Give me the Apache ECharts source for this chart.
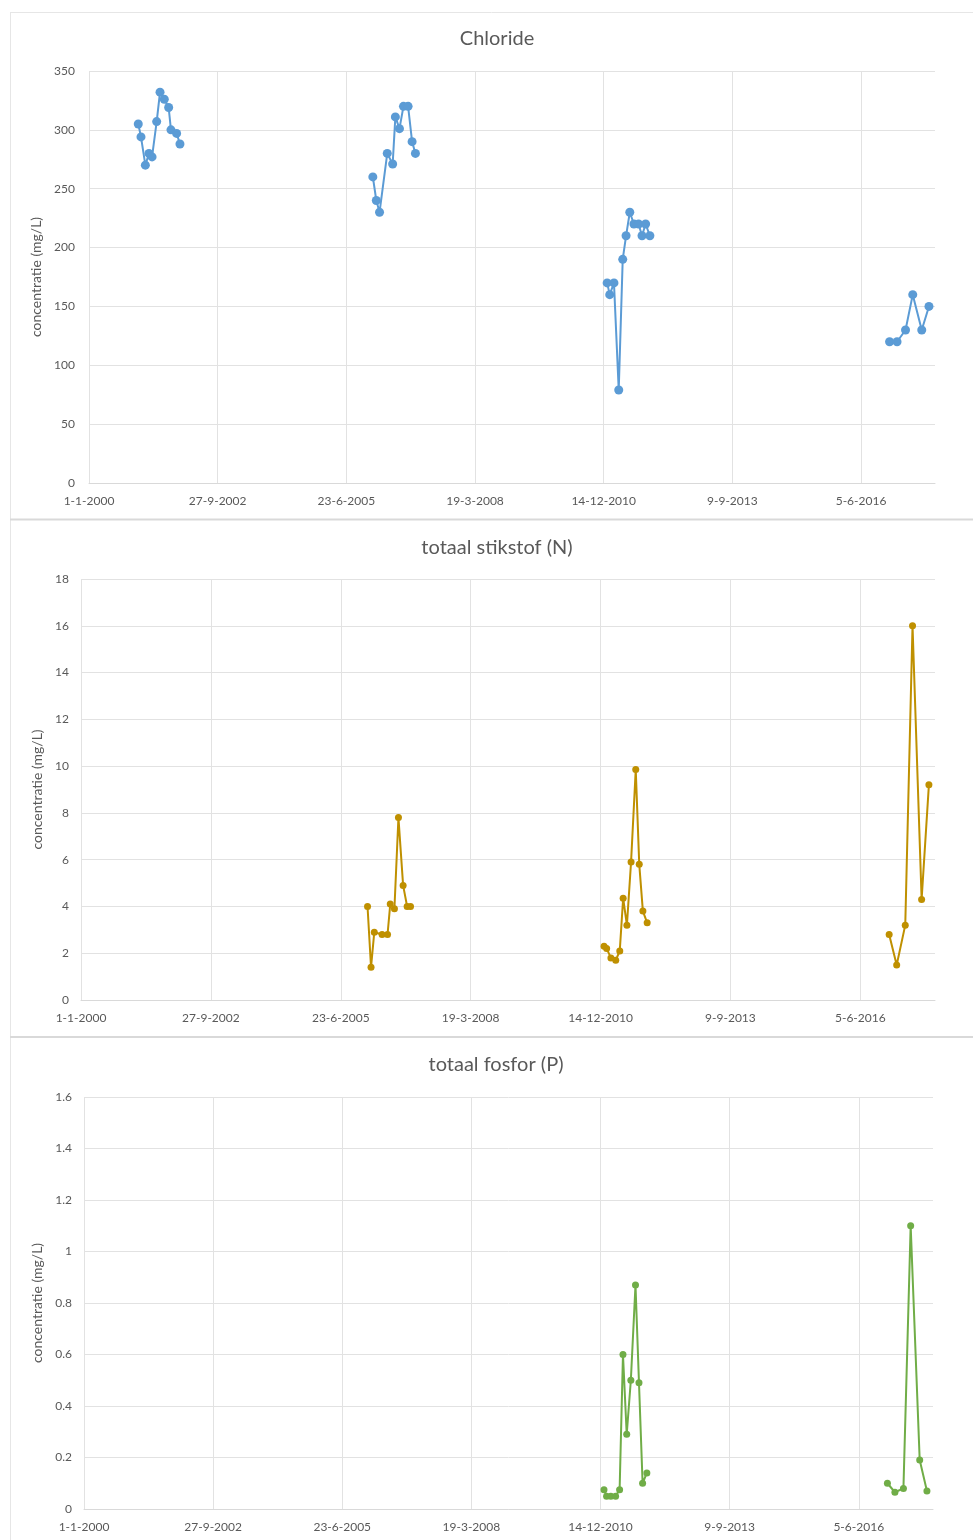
<!DOCTYPE html>
<html>
<head>
<meta charset="utf-8">
<script src="https://cdn.jsdelivr.net/npm/echarts@6/dist/echarts.min.js"></script>
<style>
html,body{margin:0;padding:0;background:#fff;}
#c{width:973px;height:1540px;}
</style>
</head>
<body>
<div id="c"></div>
<script>
// ---- data ----
const titles = ['Chloride', 'totaal stikstof (N)', 'totaal fosfor (P)'];
const yAxisName = 'concentratie (mg/L)';

const dates2001 = ['2001-01-18','2001-02-08','2001-03-14','2001-04-11','2001-05-05','2001-06-10','2001-07-06','2001-08-08','2001-09-11','2001-09-29','2001-11-12','2001-12-08'];
const chloride2001 = [305, 294, 270, 280, 277, 307, 332, 326, 319, 300, 297, 288];

const dates2006 = ['2006-01-15','2006-02-11','2006-03-08','2006-05-07','2006-06-18','2006-07-09','2006-08-10','2006-09-10','2006-10-16','2006-11-16','2006-12-12'];
const chloride2006 = [260, 240, 230, 280, 271, 311, 301, 320, 320, 290, 280];
const nitrogen2006 = [4.0, 1.4, 2.9, 2.8, 2.8, 4.1, 3.9, 7.8, 4.9, 4.0, 4.0];

const dates2011 = ['2011-01-10','2011-01-30','2011-03-04','2011-04-10','2011-05-11','2011-06-06','2011-07-05','2011-08-06','2011-09-11','2011-10-08','2011-11-05','2011-12-08'];
const chloride2011 = [170, 160, 170, 79, 190, 210, 230, 220, 220, 210, 220, 210];
const nitrogen2011 = [2.3, 2.2, 1.8, 1.7, 2.1, 4.35, 3.2, 5.9, 9.85, 5.8, 3.8, 3.3];
const phosphorus2011 = [0.075, 0.05, 0.05, 0.05, 0.075, 0.60, 0.29, 0.50, 0.87, 0.49, 0.10, 0.14];

const dates2017 = ['2017-01-13','2017-03-12','2017-05-17','2017-07-12','2017-09-20','2017-11-15'];
const chloride2017 = [120, 120, 130, 160, 130, 150];
const nitrogen2017 = [2.8, 1.5, 3.2, 16, 4.3, 9.2];
const phosphorus2017 = [0.10, 0.065, 0.08, 1.1, 0.19, 0.07];

// axis ranges
const xStartDate = '2000-01-01';
const xEndDate = '2018-01-01';
const xTickDays = 1000;
const yMax = [350, 18, 1.6];
const yInterval = [50, 2, 0.2];

// ---- helpers ----
const DAY = 86400000;
const base = Date.UTC(2000, 0, 1);
function dayNum(s) {
  const p = s.split('-').map(Number);
  return Math.round((Date.UTC(p[0], p[1] - 1, p[2]) - base) / DAY);
}
function pts(dates, vals) { return dates.map((d, i) => [dayNum(d), vals[i]]); }
function fmtDay(v) {
  if (v % xTickDays !== 0) return '';
  const d = new Date(base + v * DAY);
  return d.getUTCDate() + '-' + (d.getUTCMonth() + 1) + '-' + d.getUTCFullYear();
}

const FONT = 'Lato, "Open Sans", sans-serif';
const TXT = '#595959';
const GRIDC = '#e2e2e2';

const grids = [
  {left: 89, top: 71, width: 846, height: 412},
  {left: 81, top: 579, width: 854, height: 421},
  {left: 84, top: 1097, width: 849, height: 412}
];
const nameGaps = [42, 34, 38];
const labelMargins = [14, 12, 12];
const titleTops = [29, 538, 1055];
const colors = ['#5B9BD5', '#BF9000', '#70AD47'];
const symSizes = [9, 7, 7];

const groups = [
  [pts(dates2001, chloride2001), pts(dates2006, chloride2006), pts(dates2011, chloride2011), pts(dates2017, chloride2017)],
  [pts(dates2006, nitrogen2006), pts(dates2011, nitrogen2011), pts(dates2017, nitrogen2017)],
  [pts(dates2011, phosphorus2011), pts(dates2017, phosphorus2017)]
];

const xAxes = [], yAxes = [], series = [], title = [];
grids.forEach((g, k) => {
  g.outerBoundsMode = 'none';
  xAxes.push({
    gridIndex: k, type: 'value', min: dayNum(xStartDate), max: dayNum(xEndDate), interval: xTickDays,
    axisLabel: {formatter: fmtDay, color: TXT, fontSize: 12, fontFamily: FONT, margin: 12, hideOverlap: false},
    axisLine: {show: true, lineStyle: {color: '#d9d9d9', width: 1}},
    axisTick: {show: false},
    splitLine: {show: true, showMaxLine: false, lineStyle: {color: GRIDC, width: 1}}
  });
  yAxes.push({
    gridIndex: k, type: 'value', min: 0, max: yMax[k], interval: yInterval[k],
    name: yAxisName, nameLocation: 'middle', nameGap: nameGaps[k],
    nameTextStyle: {color: TXT, fontSize: 14, fontFamily: FONT},
    axisLabel: {color: TXT, fontSize: 12, fontFamily: FONT, margin: labelMargins[k]},
    axisLine: {show: false}, axisTick: {show: false},
    splitLine: {show: true, lineStyle: {color: GRIDC, width: 1}}
  });
  title.push({
    text: titles[k], left: k === 2 ? 496 : 497, top: titleTops[k], textAlign: 'center', padding: 0,
    textStyle: {fontSize: 20, color: TXT, fontWeight: 'normal', fontFamily: FONT}
  });
  groups[k].forEach(data => {
    series.push({
      type: 'line', xAxisIndex: k, yAxisIndex: k, data: data,
      symbol: 'circle', symbolSize: symSizes[k], showSymbol: true,
      lineStyle: {color: colors[k], width: 2},
      itemStyle: {color: colors[k]},
      clip: false, silent: true, animation: false
    });
  });
});

const chart = echarts.init(document.getElementById('c'), null, {renderer: 'canvas'});
chart.setOption({
  backgroundColor: '#ffffff',
  animation: false,
  title: title,
  grid: grids,
  xAxis: xAxes,
  yAxis: yAxes,
  series: series,
  graphic: [
    {type: 'line', shape: {x1: 10, y1: 12.5, x2: 973, y2: 12.5}, style: {stroke: '#e6e6e6', lineWidth: 1}, silent: true},
    {type: 'line', shape: {x1: 10.5, y1: 12, x2: 10.5, y2: 1540}, style: {stroke: '#e6e6e6', lineWidth: 1}, silent: true},
    {type: 'line', shape: {x1: 10, y1: 519.5, x2: 973, y2: 519.5}, style: {stroke: '#d9d9d9', lineWidth: 2}, silent: true},
    {type: 'line', shape: {x1: 10, y1: 1037, x2: 973, y2: 1037}, style: {stroke: '#d9d9d9', lineWidth: 2}, silent: true}
  ]
});
</script>
</body>
</html>
